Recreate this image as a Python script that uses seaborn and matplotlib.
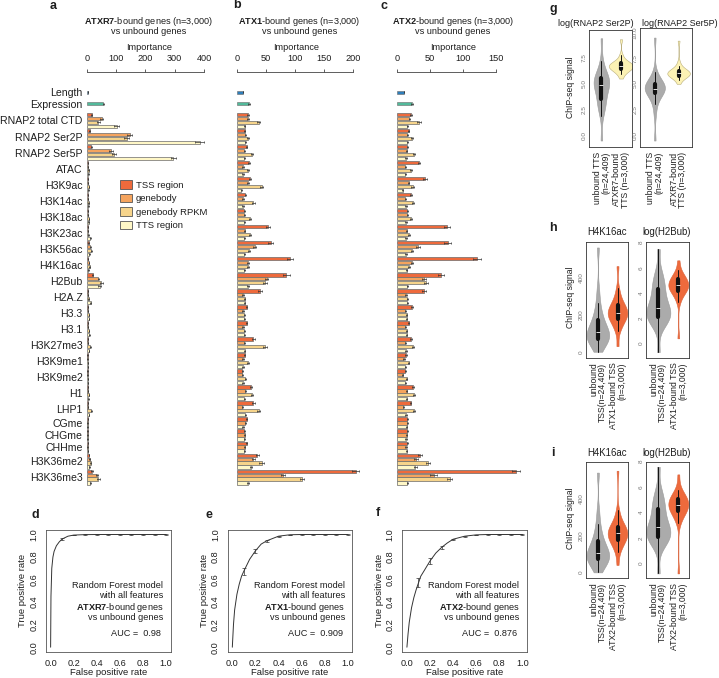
import numpy as np
import pandas as pd
import matplotlib
matplotlib.use('Agg')
import matplotlib.pyplot as plt
import seaborn as sns
from matplotlib.patches import Patch

W, H = 719, 678

# features of panels a-c, top to bottom
features = ['Length', 'Expression', 'RNAP2 total CTD', 'RNAP2 Ser2P', 'RNAP2 Ser5P', 'ATAC',
            'H3K9ac', 'H3K14ac', 'H3K18ac', 'H3K23ac', 'H3K56ac', 'H4K16ac', 'H2Bub', 'H2A.Z',
            'H3.3', 'H3.1', 'H3K27me3', 'H3K9me1', 'H3K9me2', 'H1', 'LHP1', 'CGme', 'CHGme',
            'CHHme', 'H3K36me2', 'H3K36me3']
regions4 = ['TSS region', 'genebody', 'genebody RPKM', 'TTS region']
regions3 = ['TSS region', 'genebody', 'TTS region']
methyl = ['CGme', 'CHGme', 'CHHme']

# importance (ATXR7)
a_imp = [[5], [57], [17, 51, 40, 102], [11, 147, 136, 385], [15, 82, 93, 295], [4, 5, 7, 6],
         [4, 5, 8, 6], [4, 5, 7, 6], [4, 5, 8, 7], [4, 5, 6, 12], [7, 12, 15, 9], [5, 8, 10, 6],
         [20, 40, 50, 44], [4, 4, 7, 14], [4, 4, 8, 8], [4, 4, 8, 9], [4, 4, 12, 8], [3, 3, 5, 4],
         [3, 3, 5, 4], [4, 4, 8, 6], [4, 4, 16, 8], [4, 3, 3], [3, 3, 3], [4, 3, 4],
         [8, 10, 14, 9], [18, 35, 40, 12]]
a_err = [[1], [3], [1.5, 4, 4, 8], [1.5, 8, 8, 15], [1.5, 6, 6, 8], [1, 1, 1, 1],
         [1, 1, 1, 1], [1, 1, 1, 1], [1, 1, 1, 1.5], [1, 1, 1, 2], [1, 1.5, 2, 1.5], [1, 1, 1.5, 1],
         [2, 3, 4, 4], [1, 1, 1.5, 2], [1, 1, 1, 1], [1, 1, 1, 1], [1, 1, 2, 1], [1, 1, 1, 1],
         [1, 1, 1, 1], [1, 1, 1, 1], [1, 1, 2, 1.5], [1, 1, 1], [1, 1, 1], [1, 1, 1],
         [1, 1.5, 2, 1.5], [2, 3, 4, 2]]

# importance (ATX1)
b_imp = [[10], [20], [18, 19, 37, 13], [13, 14, 18, 14], [16, 12, 26, 12], [20, 10, 19, 10],
         [22, 19, 42, 7], [14, 10, 28, 10], [12, 12, 22, 12], [53, 13, 22, 12], [58, 30, 20, 12],
         [91, 19, 18, 12], [85, 51, 48, 18], [39, 10, 13, 13], [16, 10, 12, 12], [16, 10, 12, 12],
         [28, 12, 48, 13], [13, 10, 19, 10], [9, 9, 14, 10], [24, 14, 26, 12], [28, 9, 37, 14],
         [16, 14, 10], [12, 13, 12], [16, 13, 12], [35, 28, 42, 24], [205, 79, 112, 19]]
b_err = [[0.5], [1.5], [1.5, 1.5, 2.5, 1], [1, 1, 1.5, 1], [1, 1, 2, 1], [1.5, 1, 1.5, 1],
         [2, 1.5, 3, 0.8], [1, 1, 2, 1], [1, 1, 1.5, 1], [3, 1, 1.5, 1], [4, 2, 1.5, 1],
         [5, 1.5, 1.5, 1], [6, 3, 3, 1.5], [3, 1, 1, 1], [1, 1, 1, 1], [1, 1, 1, 1],
         [2, 1, 3, 1], [1, 1, 1.5, 1], [1, 1, 1, 1], [2, 1, 2, 1], [2, 1, 2.5, 1],
         [1, 1, 1], [1, 1, 1], [1, 1, 1], [2, 2, 4, 1.5], [6, 3, 3, 1.5]]

# importance (ATX2)
c_imp = [[11], [23], [21, 19, 34, 16], [18, 16, 23, 16], [16, 15, 26, 14], [34, 13, 21, 13],
         [43, 18, 24, 9], [21, 13, 25, 14], [16, 16, 21, 14], [76, 15, 18, 14], [77, 32, 23, 14],
         [121, 23, 18, 15], [67, 41, 45, 16], [42, 14, 16, 16], [23, 13, 15, 15], [18, 13, 15, 15],
         [21, 13, 25, 14], [14, 11, 18, 13], [13, 9, 15, 13], [24, 15, 26, 15], [21, 10, 26, 14],
         [16, 16, 15], [16, 15, 14], [16, 14, 15], [36, 29, 48, 28], [181, 56, 80, 16]]
c_err = [[0.5], [1], [1.5, 1, 3, 1], [1, 1, 1.5, 1], [1, 1, 1.5, 1], [2, 1, 1.5, 1],
         [3, 1, 2, 0.8], [1.5, 1, 1.5, 1], [1, 1, 1.5, 1], [5, 1, 1.5, 1], [5, 3, 1.5, 1],
         [6, 1.5, 1.5, 1], [4, 3, 3, 1], [3, 1, 1, 1], [1, 1, 1, 1], [1, 1, 1, 1],
         [1.5, 1, 1.5, 1], [1, 1, 1, 1], [1, 1, 1, 1], [1.5, 1, 2, 1], [1, 1, 2, 1],
         [1, 1, 1], [1, 1, 1], [1, 1, 1], [3, 3, 3, 2], [6, 5, 4, 1]]

# ROC curves
d_fpr = [0, 0.003, 0.01, 0.02, 0.03, 0.05, 0.075, 0.1, 0.15, 0.2, 0.3, 0.4, 0.5, 0.6, 0.7, 0.8, 0.9, 1.0]
d_tpr = [0, 0.45, 0.7, 0.8, 0.85, 0.9, 0.935, 0.96, 0.985, 0.995, 0.999, 1, 1, 1, 1, 1, 1, 1]
d_sd = [0.012, 0.003, 0.002, 0.001, 0.001, 0.001, 0.001, 0.001, 0.001, 0.001]
e_fpr = [0, 0.01, 0.02, 0.04, 0.06, 0.08, 0.1, 0.15, 0.2, 0.25, 0.3, 0.4, 0.5, 0.6, 0.7, 0.8, 0.9, 1.0]
e_tpr = [0, 0.2, 0.33, 0.47, 0.56, 0.63, 0.675, 0.78, 0.855, 0.915, 0.945, 0.985, 0.998, 1, 1, 1, 1, 1]
e_sd = [0.03, 0.02, 0.008, 0.004, 0.002, 0.001, 0.001, 0.001, 0.001, 0.001]
f_fpr = [0, 0.01, 0.02, 0.04, 0.06, 0.08, 0.1, 0.12, 0.15, 0.2, 0.25, 0.3, 0.35, 0.4, 0.5, 0.6,
         0.7, 0.8, 0.9, 1.0]
f_tpr = [0, 0.12, 0.22, 0.35, 0.44, 0.51, 0.57, 0.63, 0.68, 0.765, 0.835, 0.885, 0.925, 0.958,
         0.985, 0.997, 1, 1, 1, 1]
f_sd = [0.04, 0.03, 0.015, 0.006, 0.004, 0.002, 0.001, 0.001, 0.001, 0.001]
roc_marks = [0.1, 0.2, 0.3, 0.4, 0.5, 0.6, 0.7, 0.8, 0.9, 1.0]

# ChIP-seq signal distributions (quantiles 0, 5, ..., 100 %)
g_ser2_unb = [-0.5, 1.9, 2.6, 2.9, 3.1, 3.5, 3.9, 4.2, 4.5, 4.7, 4.85, 5.0, 5.15, 5.3, 5.45, 5.6,
              5.8, 6.0, 6.4, 7.2, 9.4]
g_ser2_bnd = [5.5, 5.9, 6.1, 6.2, 6.3, 6.4, 6.5, 6.55, 6.6, 6.65, 6.7, 6.75, 6.8, 6.9, 6.95, 7.0,
              7.1, 7.2, 7.4, 7.8, 9.3]
g_ser5_unb = [-0.5, 2.0, 3.0, 3.5, 3.8, 4.1, 4.25, 4.35, 4.45, 4.5, 4.55, 4.6, 4.7, 4.8, 4.9, 5.0,
              5.15, 5.35, 5.6, 6.2, 9.5]
g_ser5_bnd = [5.0, 5.4, 5.55, 5.65, 5.75, 5.8, 5.85, 5.9, 5.95, 6.0, 6.05, 6.1, 6.15, 6.2, 6.25,
              6.3, 6.4, 6.5, 6.7, 7.1, 9.2]
h_h4_unb = [0, 35, 48, 57, 64, 70, 76, 82, 89, 96, 104, 113, 124, 137, 152, 170, 192, 220, 260, 330, 560]
h_h4_bnd = [30, 110, 135, 152, 165, 175, 184, 191, 198, 204, 210, 217, 224, 232, 241, 250, 262,
            278, 300, 340, 460]
h_h2b_unb = [-0.7, 1.3, 1.6, 1.8, 1.95, 2.1, 2.25, 2.4, 2.55, 2.7, 2.85, 3.05, 3.3, 3.6, 3.95, 4.3,
             4.6, 4.9, 5.3, 5.8, 7.5]
h_h2b_bnd = [0.4, 3.3, 3.7, 3.95, 4.1, 4.2, 4.3, 4.4, 4.5, 4.55, 4.6, 4.7, 4.8, 4.9, 5.0, 5.1,
             5.2, 5.35, 5.5, 5.8, 6.6]
i_h4_unb = [0, 35, 48, 57, 64, 72, 78, 84, 91, 98, 106, 115, 126, 139, 154, 172, 194, 222, 262, 330, 540]
i_h4_bnd = [40, 112, 137, 153, 166, 175, 184, 191, 198, 205, 211, 218, 225, 232, 239, 245, 256,
            272, 295, 335, 550]
i_h2b_unb = [-0.8, 1.3, 1.6, 1.8, 1.95, 2.1, 2.25, 2.4, 2.55, 2.7, 2.85, 3.05, 3.3, 3.6, 3.95, 4.3,
             4.6, 4.9, 5.3, 5.8, 7.6]
i_h2b_bnd = [-0.8, 3.2, 3.6, 3.85, 4.0, 4.1, 4.25, 4.35, 4.45, 4.55, 4.6, 4.7, 4.8, 4.9, 5.0, 5.1,
             5.2, 5.35, 5.5, 5.8, 7.0]

bar_colors = {'Length': '#2E7EBB', 'Expression': '#52BA9B', 'TSS region': '#EE6A3C',
              'genebody': '#F5A45E', 'genebody RPKM': '#F6D48B', 'TTS region': '#FFF7C6'}
INK = '#1e1e1e'
GREY_V = '#ABABAB'
YELLOW_V = '#FCF2B4'
RED_V = '#EE6A3C'

sns.set_theme(style='white')
plt.rcParams['font.family'] = ['Liberation Sans', 'DejaVu Sans']
plt.rcParams['mathtext.fontset'] = 'custom'
plt.rcParams['mathtext.rm'] = 'Liberation Sans'
plt.rcParams['mathtext.bf'] = 'Liberation Sans:bold'
plt.rcParams['text.color'] = INK
plt.rcParams['axes.labelcolor'] = INK
plt.rcParams['xtick.color'] = INK
plt.rcParams['ytick.color'] = INK

fig = plt.figure(figsize=(W / 100, H / 100), dpi=100)


def rect(l, t, r, b):
    return [l / W, 1 - b / H, (r - l) / W, (b - t) / H]


def regions_of(feat):
    if feat in ('Length', 'Expression'):
        return [feat]
    if feat in methyl:
        return regions3
    return regions4


def bar_frame(imp, err):
    rows, centres = [], []
    cursor = 0.0
    for feat, vals, errs in zip(features, imp, err):
        regs = regions_of(feat)
        pos = [cursor + 0.5 + i for i in range(len(regs))]
        for r, v, e, p in zip(regs, vals, errs, pos):
            rows.append(dict(feature=feat, region=r, value=v, err=e, pos=p))
        centres.append(np.mean(pos))
        cursor += max(len(regs), 2.75) + 0.12
    return pd.DataFrame(rows), centres, cursor - 0.12


def bar_panel(px, imp, err, xmax, step, show_labels):
    ax = fig.add_axes(rect(*px))
    ax.set_facecolor('none')
    df, centres, total = bar_frame(imp, err)
    single = df[df.region.isin(['Length', 'Expression'])]
    multi = df[~df.region.isin(['Length', 'Expression'])]
    sns.barplot(data=multi, x='value', y='pos', hue='region', palette=bar_colors, orient='h',
                native_scale=True, dodge=False, errorbar=None, width=0.86, saturation=1,
                edgecolor='#6a6a6a', linewidth=0.5, legend=False, ax=ax)
    sns.barplot(data=single, x='value', y='pos', hue='region', palette=bar_colors, orient='h',
                native_scale=True, dodge=False, errorbar=None, saturation=1,
                width=0.7 / np.diff(single.pos).min(),
                edgecolor='#6a6a6a', linewidth=0.4, legend=False, ax=ax)
    eb = ax.errorbar(df.value, df.pos, xerr=df.err, fmt='none', ecolor='#333333',
                     elinewidth=0.5, capsize=1.0, capthick=0.5)
    for art in list(ax.patches) + list(eb.lines[1]) + list(eb.lines[2]):
        art.set_clip_on(False)
    ax.set_ylim(total, 0)
    ax.set_xlim(0, xmax)
    for s in ['left', 'right', 'bottom']:
        ax.spines[s].set_visible(False)
    ax.spines['top'].set_position(('outward', 13))
    ax.spines['top'].set_bounds(0, xmax)
    ax.spines['top'].set_color('#444444')
    ax.spines['top'].set_linewidth(0.6)
    ax.xaxis.tick_top()
    ax.set_xticks(range(0, xmax + 1, step))
    ax.tick_params(axis='x', direction='out', length=2.2, width=0.6, color='#444444',
                   labelsize=6.6, pad=4.5)
    ax.set_xlabel('')
    ax.set_ylabel('')
    if show_labels:
        ax.set_yticks(centres, features)
        ax.tick_params(axis='y', length=0, labelsize=7.6, pad=3)
    else:
        ax.set_yticks([])
    return ax


ax_a = bar_panel((86.7, 90.4, 204, 485), a_imp, a_err, 400, 100, True)
ax_b = bar_panel((237.3, 90.4, 352.7, 485), b_imp, b_err, 200, 50, False)
ax_c = bar_panel((396.7, 90.4, 495.7, 485), c_imp, c_err, 150, 50, False)

for x, name in [(149, 'ATXR7'), (299.5, 'ATX1'), (453, 'ATX2')]:
    fig.text(x / W, 1 - 22 / H, r'$\mathbf{' + name + r'}$-bound genes (n=3,000)', fontsize=6.6,
             ha='center', va='center')
    fig.text(x / W, 1 - 32 / H, 'vs unbound genes', fontsize=6.6, ha='center', va='center')
for x in [149, 296, 453]:
    fig.text(x / W, 1 - 48 / H, 'Importance', fontsize=6.6, ha='center', va='center')

handles = [Patch(facecolor=bar_colors[r], edgecolor='#555555', linewidth=0.6, label=r)
           for r in regions4]
ax_a.legend(handles=handles, loc='upper left', bbox_to_anchor=(120 / W, 1 - 180 / H),
            bbox_transform=fig.transFigure, frameon=False, fontsize=6.8, handlelength=1.25,
            handleheight=1.05, labelspacing=0.42, handletextpad=0.4, borderpad=0, borderaxespad=0)


def roc_panel(px, fpr, tpr, sd, name, auc):
    ax = fig.add_axes(rect(*px))
    sns.lineplot(x=fpr, y=tpr, color='#333333', linewidth=0.7, ax=ax)
    mark_y = [tpr[fpr.index(m)] for m in roc_marks]
    ax.errorbar(roc_marks, mark_y, yerr=sd, fmt='none', ecolor='#333333', elinewidth=0.5,
                capsize=1.2, capthick=0.5)
    ax.set_xlim(-0.04, 1.04)
    ax.set_ylim(-0.04, 1.04)
    ticks = [0, 0.2, 0.4, 0.6, 0.8, 1.0]
    labels = ['0.0', '0.2', '0.4', '0.6', '0.8', '1.0']
    ax.set_xticks(ticks, labels)
    ax.set_yticks(ticks, labels)
    for s in ax.spines.values():
        s.set_color('#555555')
        s.set_linewidth(0.6)
    ax.tick_params(direction='out', length=2.5, width=0.5, color='#555555', labelsize=6.6)
    ax.tick_params(axis='x', pad=2.5)
    ax.tick_params(axis='y', pad=3, labelrotation=90)
    for lab in ax.get_yticklabels():
        lab.set_va('center')
    r = px[2]
    fig.text((px[0] + px[2]) / 2 / W, 1 - 672.7 / H, 'False positive rate', fontsize=6.8,
             ha='center', va='center')
    fig.text((px[0] - 23) / W, 1 - (px[1] + px[3]) / 2 / H, 'True positive rate', fontsize=6.8,
             rotation=90, ha='center', va='center')
    tx = (r - 7.5) / W
    fig.text(tx, 1 - 585 / H, 'Random Forest model', fontsize=6.6, ha='right', va='center')
    fig.text(tx, 1 - 595 / H, 'with all features', fontsize=6.6, ha='right', va='center')
    fig.text(tx, 1 - 608 / H, r'$\mathbf{' + name + r'}$-bound genes', fontsize=6.6,
             ha='right', va='center')
    fig.text(tx, 1 - 618 / H, 'vs unbound genes', fontsize=6.6, ha='right', va='center')
    fig.text((r - 9.5) / W, 1 - 633.5 / H, 'AUC =  ' + auc, fontsize=6.6, ha='right', va='center')
    return ax


roc_panel((46, 530, 170.7, 651.7), d_fpr, d_tpr, d_sd, 'ATXR7', '0.98')
roc_panel((227.7, 530, 352.4, 651.7), e_fpr, e_tpr, e_sd, 'ATX1', '0.909')
roc_panel((402.3, 530, 527, 651.7), f_fpr, f_tpr, f_sd, 'ATX2', '0.876')


def violin_panel(px, groups, dists, colors, edges, widths, ylim, yticks, yticklabels):
    ax = fig.add_axes(rect(*px))
    for g, v, c, ec, w in zip(groups, dists, colors, edges, widths):
        sns.violinplot(x=[g] * len(v), y=v, order=groups, color=c, linecolor=ec, width=w,
                       cut=0, bw_adjust=0.7, inner='box', linewidth=0.4, saturation=1,
                       inner_kws=dict(box_width=3, whis_width=0.7, color='#111111'), ax=ax)
    ax.set_xlim(-0.62, 1.55)
    ax.set_ylim(*ylim)
    ax.set_yticks(yticks, yticklabels)
    ax.set_xticks([0, 1], groups)
    for s in ax.spines.values():
        s.set_visible(True)
        s.set_color('#333333')
        s.set_linewidth(0.6)
    ax.tick_params(axis='y', direction='out', length=1, width=0.5, color='#333333',
                   labelsize=4.6, labelcolor='#777777', labelrotation=90, pad=0.6)
    for lab in ax.get_yticklabels():
        lab.set_va('center')
    ax.tick_params(axis='x', direction='out', length=2, width=0.5, color='#333333',
                   labelsize=6.2, labelrotation=90, pad=1.5)
    for lab in ax.get_xticklabels():
        lab.set_linespacing(0.95)
        lab.set_multialignment('right')
    ax.set_xlabel('')
    ax.set_ylabel('')
    return ax


g_ticks = [0, 2.5, 5, 7.5]
violin_panel((589.3, 30, 631.7, 146.7), ['unbound TTS\n(n=24,409)', 'ATXR7-bound\nTTS (n=3,000)'],
             [g_ser2_unb, g_ser2_bnd], [GREY_V, YELLOW_V], ['#9A9A9A', '#B9AE7C'], [0.8, 1.25],
             (-1.1, 10.2), g_ticks, ['0.0', '2.5', '5.0', '7.5'])
violin_panel((640, 28.3, 691.7, 146.7), ['unbound TTS\n(n=24,409)', 'ATXR7-bound\nTTS (n=3,000)'],
             [g_ser5_unb, g_ser5_bnd], [GREY_V, YELLOW_V], ['#9A9A9A', '#B9AE7C'], [0.85, 0.95],
             (-1.1, 10.4), g_ticks + [10], ['0.0', '2.5', '5.0', '7.5', '10.0'])
violin_panel((585.7, 241.7, 628.3, 357.7), ['unbound\nTSS(n=24,409)', 'ATX1-bound TSS\n(n=3,000)'],
             [h_h4_unb, h_h4_bnd], [GREY_V, RED_V], ['#9A9A9A', '#D9623A'], [1.15, 1.0],
             (-32, 591), [0, 200, 400], ['0', '200', '400'])
violin_panel((646, 241.7, 689.3, 357.7), ['unbound\nTSS(n=24,409)', 'ATX1-bound TSS\n(n=3,000)'],
             [h_h2b_unb, h_h2b_bnd], [GREY_V, RED_V], ['#9A9A9A', '#D9623A'], [1.2, 1.0],
             (-1.14, 8.08), [0, 2, 4, 6, 8], ['0', '2', '4', '6', '8'])
violin_panel((585.7, 461.7, 628.3, 577.7), ['unbound\nTSS(n=24,409)', 'ATX2-bound TSS\n(n=3,000)'],
             [i_h4_unb, i_h4_bnd], [GREY_V, RED_V], ['#9A9A9A', '#D9623A'], [1.15, 1.0],
             (-29, 599), [0, 200, 400], ['0', '200', '400'])
violin_panel((646, 461.7, 689.3, 577.7), ['unbound\nTSS(n=24,409)', 'ATX2-bound TSS\n(n=3,000)'],
             [i_h2b_unb, i_h2b_bnd], [GREY_V, RED_V], ['#9A9A9A', '#D9623A'], [1.2, 1.0],
             (-1.14, 8.0), [0, 2, 4, 6, 8], ['0', '2', '4', '6', '8'])

for x, y, t, fs in [(596, 23.3, 'log(RNAP2 Ser2P)', 6.5), (680, 23.3, 'log(RNAP2 Ser5P)', 6.5),
                    (607, 231.7, 'H4K16ac', 6.9), (667, 231.7, 'log(H2Bub)', 6.9),
                    (607, 453.3, 'H4K16ac', 6.9), (667, 453.3, 'log(H2Bub)', 6.9)]:
    fig.text(x / W, 1 - y / H, t, fontsize=fs, ha='center', va='center')
for y in [87, 297, 518]:
    fig.text(570.5 / W, 1 - y / H, 'ChIP-seq signal', fontsize=6.2, rotation=90,
             ha='center', va='center')

# panel letters
for x, y, t in [(53, 6, 'a'), (236.7, 5, 'b'), (384, 6, 'c'), (35, 515, 'd'), (209, 515, 'e'),
                (378, 513, 'f'), (553, 9, 'g'), (553, 228, 'h'), (553, 453, 'i')]:
    fig.text(x / W, 1 - y / H, t, fontsize=9, fontweight='bold', ha='center', va='center')

fig.savefig('out.png', dpi=100)
